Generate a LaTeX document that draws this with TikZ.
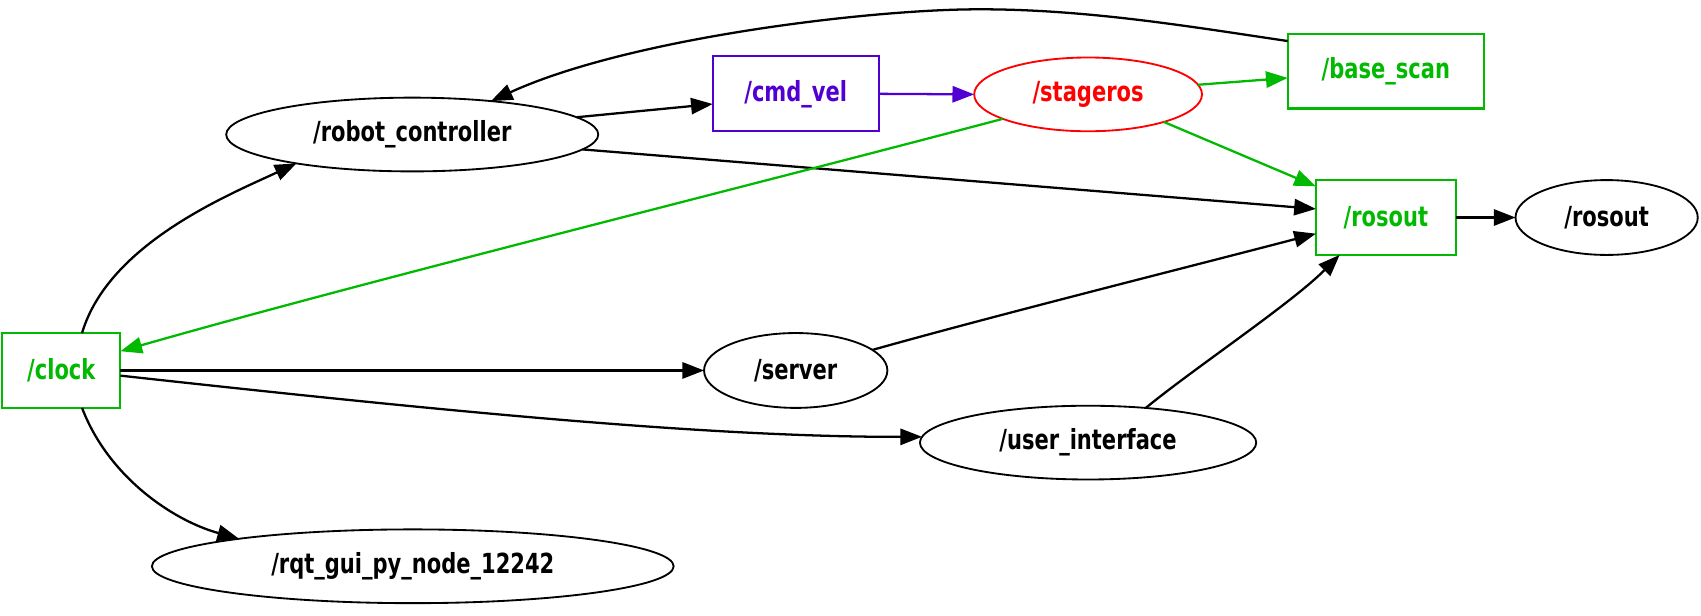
\documentclass[tikz,border=0pt]{standalone}
\usepackage{fontspec}
\newfontfamily\lbl{DejaVu Sans}[FakeStretch=0.76]
\usetikzlibrary{arrows.meta,shapes.geometric}
\definecolor{tgreen}{RGB}{0,185,0}
\definecolor{tpurple}{RGB}{80,0,210}
\definecolor{tred}{RGB}{255,0,0}
\begin{document}
\begin{tikzpicture}[x=1pt,y=-1pt,
  every node/.style={font=\lbl\bfseries\fontsize{25.5}{30}\selectfont, inner sep=0pt, outer sep=0pt},
  nodeell/.style={ellipse, draw, line width=1.7pt},
  topicbox/.style={rectangle, draw, line width=1.9pt},
  conn/.style={line width=2.1pt, -{Triangle[length=20pt,width=15pt]}}]
\useasboundingbox (0,0) rectangle (1568,567);
\node[nodeell, minimum width=343pt, minimum height=68pt] (rc) at (380,124) {/robot\_controller};
\node[topicbox, draw=tpurple, text=tpurple, minimum width=153pt, minimum height=69pt] (cmd) at (733.5,86.5) {/cmd\_vel};
\node[nodeell, draw=tred, text=tred, minimum width=210pt, minimum height=68pt] (st) at (1003,87) {/stageros};
\node[topicbox, draw=tgreen, text=tgreen, minimum width=181pt, minimum height=69pt] (bs) at (1277.5,65.5) {/base\_scan};
\node[topicbox, draw=tgreen, text=tgreen, minimum width=129pt, minimum height=69pt] (rb) at (1277.5,200.5) {/rosout};
\node[nodeell, minimum width=168pt, minimum height=69pt] (re) at (1481,200.5) {/rosout};
\node[topicbox, draw=tgreen, text=tgreen, minimum width=109pt, minimum height=69pt] (clk) at (56.5,341.5) {/clock};
\node[nodeell, minimum width=169pt, minimum height=69pt] (sv) at (733.5,341.5) {/server};
\node[nodeell, minimum width=310pt, minimum height=68pt] (ui) at (1003,408) {/user\_interface};
\node[nodeell, minimum width=481pt, minimum height=68pt] (rqt) at (380.5,522) {/rqt\_gui\_py\_node\_12242};

\draw[conn] (bs.163) .. controls (1100,25) and (1000,8) .. (899,8.6) .. controls (800,9) and (580,35) .. (rc.23);
\draw[conn] (rc.6.3) -- (cmd.187);
\draw[conn, tpurple] (cmd.east) -- (st.west);
\draw[conn, tgreen] (st.5) -- (bs.184);
\draw[conn, tgreen] (st.-20.6) -- (rb.156);
\draw[conn] (rc.-5.1) -- (rb.173.4);
\draw[conn, tgreen] (st.196.7) .. controls (700,169) and (330,261) .. (clk.18.4);
\draw[conn] (clk.61.8) .. controls (100,225) and (210,180) .. (rc.194.4);
\draw[conn] (clk.east) -- (sv.west);
\draw[conn] (clk.-5.7) .. controls (400,378) and (650,403) .. (ui.178.2);
\draw[conn] (clk.-61.8) .. controls (100,440) and (160,480) .. (rqt.171);
\draw[conn] (sv.15) .. controls (920,290) and (1100,245) .. (rb.193.8);
\draw[conn] (ui.31.9) .. controls (1100,340) and (1190,280) .. (rb.219.7);
\draw[conn] (rb.east) -- (re.west);
\end{tikzpicture}
\end{document}
